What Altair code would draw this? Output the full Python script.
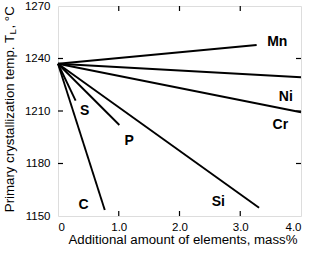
import altair as alt
import pandas as pd

# Lines: each element starts at the common origin and ends at its end point
elements = ["Mn", "Ni", "Cr", "S", "P", "Si", "C"]
x_start = [0, 0, 0, 0, 0, 0, 0]
y_start = [1237, 1237, 1237, 1237, 1237, 1237, 1237]
x_end = [3.27, 4.0, 4.0, 0.29, 1.01, 3.31, 0.77]
y_end = [1247.7, 1229.3, 1209.3, 1215.9, 1202.0, 1154.7, 1153.4]

# Label positions
label_x = [3.61, 3.75, 3.66, 0.44, 1.17, 2.64, 0.42]
label_y = [1249.2, 1218.2, 1202.0, 1210.2, 1192.7, 1158.2, 1156.3]

x_ticks = [0, 1, 2, 3, 4]
y_ticks = [1150, 1180, 1210, 1240, 1270]
x_inner = [1, 2, 3]
y_inner = [1180, 1210, 1240]

rows = []
for i, e in enumerate(elements):
    rows.append({"element": e, "order": 0, "x": x_start[i], "y": y_start[i]})
    rows.append({"element": e, "order": 1, "x": x_end[i], "y": y_end[i]})
lines_df = pd.DataFrame(rows)
labels_df = pd.DataFrame({"element": elements, "x": label_x, "y": label_y})
xt_df = pd.DataFrame({"v": x_inner})
yt_df = pd.DataFrame({"v": y_inner})

W, H = 243, 210
FONT = "Liberation Sans"

xscale = alt.Scale(domain=[0, 4], nice=False, zero=False)
yscale = alt.Scale(domain=[1150, 1270], nice=False, zero=False)

xaxis = alt.Axis(
    values=x_ticks,
    labelExpr="datum.value == 0 ? '0' : format(datum.value, '.1f')",
    title="Additional amount of elements, mass%",
    grid=False, ticks=False, tickSize=0, domain=False,
    labelPadding=5.5, labelFontSize=11.5, labelColor="black", labelFont=FONT,
    titleFontSize=13.25, titleFont=FONT, titleColor="black", titleFontWeight="normal",
    titleX=124.5, titleY=23, titleBaseline="middle", titleAnchor="start", titleAlign="center",
)
yaxis = alt.Axis(
    values=y_ticks, format="d", title=None,
    grid=False, ticks=False, tickSize=0, domain=False,
    labelPadding=8, labelFontSize=11.5, labelColor="black", labelFont=FONT,
)

lines = alt.Chart(lines_df).mark_line(color="black", strokeWidth=1.9).encode(
    x=alt.X("x:Q", scale=xscale, axis=xaxis),
    y=alt.Y("y:Q", scale=yscale, axis=yaxis),
    detail="element:N",
    order="order:O",
)

labels = alt.Chart(labels_df).mark_text(
    font=FONT, fontSize=14, fontWeight="bold", color="black", align="center", baseline="middle"
).encode(
    x=alt.X("x:Q", scale=xscale),
    y=alt.Y("y:Q", scale=yscale),
    text="element:N",
)

tick_style = dict(color="black", strokeWidth=1.2)
bottom_ticks = alt.Chart(xt_df).mark_rule(**tick_style).encode(
    x=alt.X("v:Q", scale=xscale), y=alt.value(H), y2=alt.value(H - 5))
top_ticks = alt.Chart(xt_df).mark_rule(**tick_style).encode(
    x=alt.X("v:Q", scale=xscale), y=alt.value(0), y2=alt.value(5))
left_ticks = alt.Chart(yt_df).mark_rule(**tick_style).encode(
    y=alt.Y("v:Q", scale=yscale), x=alt.value(0), x2=alt.value(5))
right_ticks = alt.Chart(yt_df).mark_rule(**tick_style).encode(
    y=alt.Y("v:Q", scale=yscale), x=alt.value(W), x2=alt.value(W - 5))

# Y title with subscript L, drawn as rotated text pieces
title_main = alt.Chart(pd.DataFrame({"t": ["Primary crystallization temp. T"]})).mark_text(
    font=FONT, fontSize=13.25, color="black", angle=270, align="right", baseline="alphabetic"
).encode(x=alt.value(-44), y=alt.value(29), text="t:N")
title_sub = alt.Chart(pd.DataFrame({"t": ["L"]})).mark_text(
    font=FONT, fontSize=9.5, color="black", angle=270, align="left", baseline="alphabetic"
).encode(x=alt.value(-42.3), y=alt.value(28.5), text="t:N")
title_end = alt.Chart(pd.DataFrame({"t": [", °C"]})).mark_text(
    font=FONT, fontSize=13.25, color="black", angle=270, align="left", baseline="alphabetic"
).encode(x=alt.value(-44), y=alt.value(22.5), text="t:N")

chart = alt.layer(
    lines, labels, bottom_ticks, top_ticks, left_ticks, right_ticks,
    title_main, title_sub, title_end,
).properties(
    width=W, height=H,
    autosize=alt.AutoSizeParams(type="none"),
    padding={"left": 58, "top": 6, "right": 11, "bottom": 45},
).configure_view(
    stroke="black", strokeWidth=1.5
).configure(background="white")

chart.save("out.html", embed_options={"renderer": "svg", "actions": False})
